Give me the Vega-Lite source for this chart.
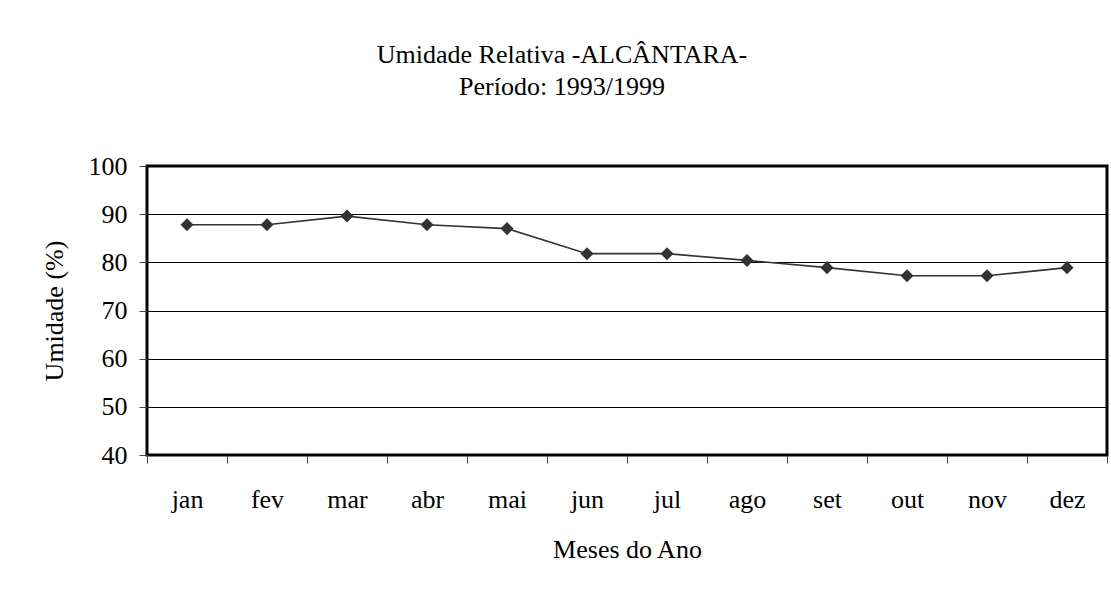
{
  "$schema": "https://vega.github.io/schema/vega-lite/v6.json",
  "autosize": "none",
  "width": 960,
  "height": 289,
  "padding": {"left": 147, "top": 166, "right": 4, "bottom": 134},
  "background": "white",
  "config": {
    "font": "Liberation Serif",
    "view": {"stroke": "black", "strokeWidth": 3}
  },
  "title": {
    "text": ["Umidade Relativa -ALCÂNTARA-", "Período: 1993/1999"],
    "font": "Liberation Serif",
    "fontSize": 26,
    "fontWeight": "normal",
    "color": "black",
    "lineHeight": 32,
    "anchor": "middle",
    "frame": "group",
    "dx": -65,
    "baseline": "bottom",
    "offset": 27
  },
  "data": {
    "values": [
      {"mes": "jan", "umidade": 87.8},
      {"mes": "fev", "umidade": 87.8},
      {"mes": "mar", "umidade": 89.6},
      {"mes": "abr", "umidade": 87.8},
      {"mes": "mai", "umidade": 87.0},
      {"mes": "jun", "umidade": 81.8},
      {"mes": "jul", "umidade": 81.8},
      {"mes": "ago", "umidade": 80.4},
      {"mes": "set", "umidade": 78.9},
      {"mes": "out", "umidade": 77.2},
      {"mes": "nov", "umidade": 77.2},
      {"mes": "dez", "umidade": 78.9}
    ]
  },
  "encoding": {
    "x": {
      "field": "mes",
      "type": "nominal",
      "sort": null,
      "scale": {"paddingInner": 0, "paddingOuter": 0},
      "axis": {
        "title": "Meses do  Ano",
        "titleFont": "Liberation Serif",
        "titleFontSize": 26,
        "titleFontWeight": "normal",
        "titleColor": "black",
        "titleBaseline": "alphabetic",
        "titleY": 102,
        "labelAngle": 0,
        "labelFont": "Liberation Serif",
        "labelFontSize": 26,
        "labelColor": "black",
        "labelBaseline": "alphabetic",
        "labelPadding": 44,
        "tickBand": "extent",
        "tickSize": 8,
        "tickColor": "#444",
        "tickWidth": 1,
        "domain": false,
        "grid": false
      }
    },
    "y": {
      "field": "umidade",
      "type": "quantitative",
      "scale": {"domain": [40, 100], "nice": false, "zero": false},
      "axis": {
        "title": "Umidade (%)",
        "titleFont": "Liberation Serif",
        "titleFontSize": 26,
        "titleFontWeight": "normal",
        "titleColor": "black",
        "titleBaseline": "alphabetic",
        "titleX": -85,
        "titleY": 144.5,
        "titleAlign": "center",
        "titleAngle": -90,
        "values": [40, 50, 60, 70, 80, 90, 100],
        "labelFont": "Liberation Serif",
        "labelFontSize": 26,
        "labelColor": "black",
        "labelPadding": 12,
        "tickSize": 8,
        "tickColor": "#444",
        "tickWidth": 1,
        "domain": false,
        "grid": true,
        "gridColor": "black",
        "gridWidth": 1,
        "gridOpacity": 1
      }
    }
  },
  "layer": [
    {
      "mark": {"type": "line", "color": "#333333", "strokeWidth": 1.6}
    },
    {
      "mark": {"type": "point", "shape": "diamond", "filled": true, "color": "#333333", "size": 170, "opacity": 1}
    }
  ]
}
